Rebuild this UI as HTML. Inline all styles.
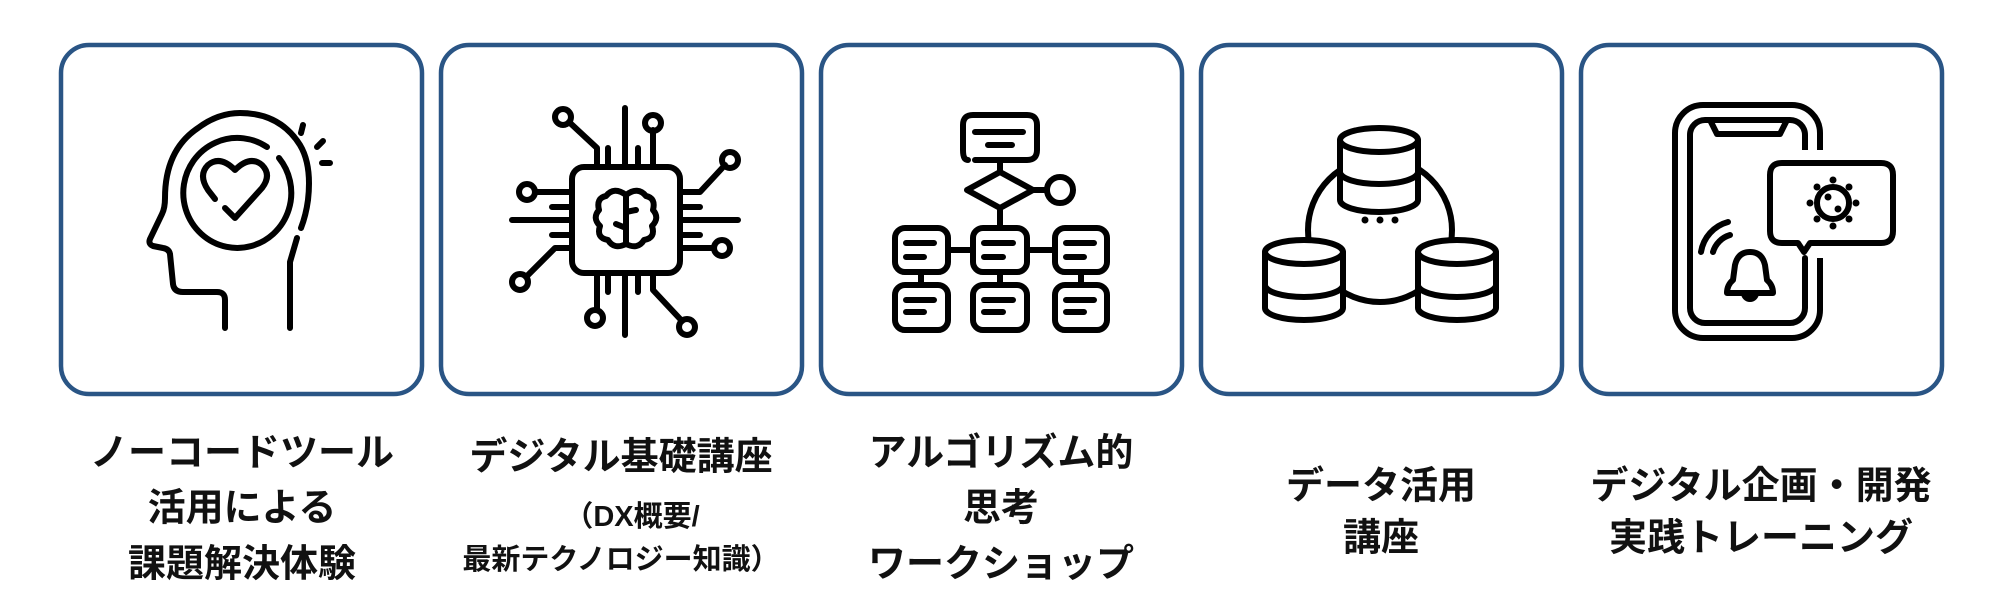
<!DOCTYPE html>
<html><head><meta charset="utf-8"><style>
html,body{margin:0;padding:0;background:#fff;}
body{width:1999px;height:614px;overflow:hidden;position:relative;}
.t{position:absolute;font-family:"Liberation Sans","Noto Sans CJK JP",sans-serif;font-weight:bold;color:#111;text-align:center;white-space:nowrap;transform:translate(-50%,-50%);}
</style></head><body>
<svg width="1999" height="614" style="position:absolute;left:0;top:0">
<g fill="#fff" stroke="#2a5585" stroke-width="4.5">
<rect x="61" y="45" width="361" height="349" rx="28"/>
<rect x="441" y="45" width="361" height="349" rx="28"/>
<rect x="821" y="45" width="361" height="349" rx="28"/>
<rect x="1201" y="45" width="361" height="349" rx="28"/>
<rect x="1581" y="45" width="361" height="349" rx="28"/>
</g>
<g fill="none" stroke="#000" stroke-width="6" stroke-linecap="round" stroke-linejoin="round">
<path d="M225,328 V300 Q225,292 217,292 H183 Q174,292 173,284 L170,254 Q169,249 163,248 L153,246 Q148,244 150,239 L162,214 Q165,208 165,198 Q165,150 198,128 Q218,113 240,113 Q280,113 300,145 Q312,165 308,200 Q306,215 301,228"/>
<path d="M290,328 V262 L297,238"/>
<path d="M267,147 A54,55 0 1,0 279,158"/>
<path d="M225,208 L235,218 L262,188 Q272,175 262,165 Q250,155 235,170 Q220,155 208,165 Q198,175 208,190 L215,199"/>
<path d="M303,125 L301,133 M317,147 L323,141 M322,163 L330,163"/>
<rect x="572" y="167" width="108" height="106" rx="12"/>
<path d="M608,148V167 M625,108V167 M638,148V167 M597,167V148 L569,122 M653,167V130"/>
<circle cx="563" cy="117" r="8"/><circle cx="653" cy="123" r="8"/>
<path d="M680,192H700 L725,165 M680,207H700 M680,220H738 M680,235H700 M680,248H714"/>
<circle cx="730" cy="160" r="8"/><circle cx="722" cy="248" r="8"/>
<path d="M572,192H535 M572,207H552 M572,220H512 M572,235H552 M572,248H555 L526,277"/>
<circle cx="527" cy="192" r="8"/><circle cx="520" cy="282" r="8"/>
<path d="M608,273V292 M625,273V335 M638,273V292 M597,273V310 M653,273V290 L682,321"/>
<circle cx="595" cy="318" r="8"/><circle cx="687" cy="327" r="8"/>
<path d="M626,195 Q614,186 606,196 Q596,198 599,210 Q592,218 600,226 Q596,238 608,240 Q614,250 626,244 Q638,250 644,240 Q656,238 652,226 Q660,218 653,210 Q656,198 646,196 Q638,186 626,195 Z M626,195 V244 M626,212 L636,210 M626,228 L616,224"/>
<path d="M975,160 H1027 Q1037,160 1037,150 V125 Q1037,115 1027,115 H973 Q963,115 963,125 V150 Q963,160 968,160"/>
<path d="M975,132H1023 M988,145H1012 M1000,160V172"/>
<path d="M1000,172 L1033,190 L1000,208 L967,190 Z M1033,190H1047 M1000,208V228"/>
<circle cx="1060" cy="190" r="13"/>
<rect x="895" y="228" width="53" height="44" rx="10"/>
<rect x="973" y="228" width="54" height="44" rx="10"/>
<rect x="1055" y="228" width="52" height="44" rx="10"/>
<rect x="895" y="285" width="53" height="45" rx="10"/>
<rect x="973" y="285" width="54" height="45" rx="10"/>
<rect x="1055" y="285" width="52" height="45" rx="10"/>
<path d="M948,250H973 M1027,250H1055 M921,272V285 M1000,272V285 M1081,272V285"/>
<path d="M906,243H934 M906,257H924 M984,243H1013 M984,257H1003 M1066,243H1094 M1066,257H1084"/>
<path d="M906,300H934 M906,312H924 M984,300H1013 M984,312H1003 M1066,300H1094 M1066,312H1084"/>
<circle cx="1380" cy="230" r="72"/>
<g fill="#fff">
<path d="M1340,140 V200 A39,12 0 0,0 1418,200 V140 Z"/>
<ellipse cx="1379" cy="140" rx="39" ry="12"/>
<path d="M1340,172 A39,12 0 0,0 1418,172" fill="none"/>
<path d="M1265,252 V308 A39,12 0 0,0 1343,308 V252 Z"/>
<ellipse cx="1304" cy="252" rx="39" ry="12"/>
<path d="M1265,285 A39,12 0 0,0 1343,285" fill="none"/>
<path d="M1418,252 V308 A39,12 0 0,0 1496,308 V252 Z"/>
<ellipse cx="1457" cy="252" rx="39" ry="12"/>
<path d="M1418,285 A39,12 0 0,0 1496,285" fill="none"/>
</g>
<rect x="1675" y="105" width="145" height="233" rx="28"/>
<rect x="1690" y="120" width="115" height="203" rx="15"/>
<path d="M1710,120 L1717,134 H1780 L1787,120 M1728,120H1767"/>
</g>
<rect x="1812" y="150" width="14" height="108" fill="#fff"/>
<rect x="1797" y="150" width="14" height="108" fill="#fff"/>
<g fill="#fff" stroke="#000" stroke-width="6" stroke-linecap="round" stroke-linejoin="round">
<path d="M1782,163 H1881 Q1893,163 1893,175 V231 Q1893,243 1881,243 H1810 L1804,252 L1798,243 H1782 Q1770,243 1770,231 V175 Q1770,163 1782,163 Z"/>
<circle cx="1833" cy="203" r="16"/>
<path fill="none" d="M1805,258V305"/>
<path d="M1727,293 Q1727,285 1733,280 L1735,265 Q1738,252 1750,252 Q1762,252 1765,265 L1767,280 Q1773,285 1773,293 Z"/>
<path fill="none" d="M1744,293 A6,6 0 0,0 1756,293"/>
<path fill="none" d="M1713,252 A25,25 0 0,1 1730,235 M1701,252 A37,37 0 0,1 1728,222"/>
</g>
<g fill="#000">
<circle cx="1380" cy="220" r="3.5"/><circle cx="1365" cy="220" r="3.5"/><circle cx="1395" cy="220" r="3.5"/>
<circle cx="1828" cy="197" r="3.5"/><circle cx="1838" cy="209" r="3.5"/>
<circle cx="1833" cy="180" r="3.5"/><circle cx="1833" cy="226" r="3.5"/><circle cx="1810" cy="203" r="3.5"/><circle cx="1856" cy="203" r="3.5"/>
<circle cx="1817" cy="187" r="3.5"/><circle cx="1849" cy="187" r="3.5"/><circle cx="1817" cy="219" r="3.5"/><circle cx="1849" cy="219" r="3.5"/>
</g>
</svg>
<div class="t" style="left:242px;top:449px;font-size:38px">ノーコードツール</div>
<div class="t" style="left:242px;top:504px;font-size:38px">活用による</div>
<div class="t" style="left:242px;top:560px;font-size:38px">課題解決体験</div>
<div class="t" style="left:621px;top:453px;font-size:38px">デジタル基礎講座</div>
<div class="t" style="left:632px;top:514px;font-size:29px">（DX概要/</div>
<div class="t" style="left:621px;top:557px;font-size:29px">最新テクノロジー知識）</div>
<div class="t" style="left:1001px;top:449px;font-size:38px">アルゴリズム的</div>
<div class="t" style="left:1001px;top:504px;font-size:38px">思考</div>
<div class="t" style="left:1001px;top:560px;font-size:38px">ワークショップ</div>
<div class="t" style="left:1381px;top:482px;font-size:38px">データ活用</div>
<div class="t" style="left:1381px;top:534px;font-size:38px">講座</div>
<div class="t" style="left:1761px;top:482px;font-size:38px">デジタル企画・開発</div>
<div class="t" style="left:1761px;top:534px;font-size:38px">実践トレーニング</div>
</body></html>
